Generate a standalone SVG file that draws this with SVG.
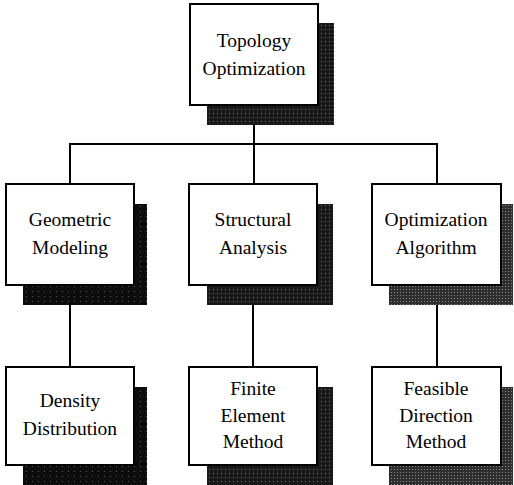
<svg xmlns="http://www.w3.org/2000/svg" width="514" height="485" viewBox="0 0 514 485">
  <style>
    .box { fill: #ffffff; stroke: #000000; stroke-width: 2; }
    .sh-dark { fill: url(#stipDark); }
    .sh-mid { fill: url(#stipMid); }
    .sh-gray { fill: url(#stipGray); }
    .lbl { font-size: 19.5px; fill: #000000; text-anchor: middle; }
    .conn { fill: none; stroke: #000000; stroke-width: 2; }
  </style>
  <defs>
    <pattern id="stipDark" width="6" height="5" patternUnits="userSpaceOnUse">
      <rect width="6" height="5" fill="#0d0d0d"/>
      <rect x="2" y="1" width="1" height="1" fill="#555555"/>
    </pattern>
    <pattern id="stipMid" width="4" height="4" patternUnits="userSpaceOnUse">
      <rect width="4" height="4" fill="#1a1a1a"/>
      <rect x="1" y="1" width="1" height="1" fill="#6a6a6a"/>
    </pattern>
    <pattern id="stipGray" width="3" height="3" patternUnits="userSpaceOnUse">
      <rect width="3" height="3" fill="#2e2e2e"/>
      <rect x="1" y="1" width="1" height="1" fill="#8a8a8a"/>
    </pattern>
  </defs>
  <rect width="514" height="485" fill="#ffffff"/>

  <g id="connectors">
    <line class="conn" x1="254" y1="125" x2="254" y2="184"/>
    <polyline class="conn" points="70,184 70,144 437,144 437,184"/>
    <line class="conn" x1="70" y1="305" x2="70" y2="367"/>
    <line class="conn" x1="253" y1="305" x2="253" y2="367"/>
    <line class="conn" x1="437" y1="305" x2="437" y2="367"/>
  </g>

  <g font-family="Liberation Serif, Times New Roman, serif">
  <g id="topology-optimization">
    <rect class="sh-mid" x="207" y="23" width="127" height="102"/>
    <rect class="box" x="190" y="4" width="128" height="101"/>
    <text class="lbl" x="254" y="47">Topology</text>
    <text class="lbl" x="254" y="75">Optimization</text>
  </g>

  <g id="geometric-modeling">
    <rect class="sh-dark" x="23" y="204" width="124" height="101"/>
    <rect class="box" x="6" y="184" width="128" height="101"/>
    <text class="lbl" x="70" y="226">Geometric</text>
    <text class="lbl" x="70" y="254">Modeling</text>
  </g>

  <g id="structural-analysis">
    <rect class="sh-mid" x="207" y="204" width="126" height="101"/>
    <rect class="box" x="189" y="184" width="128" height="101"/>
    <text class="lbl" x="253" y="226">Structural</text>
    <text class="lbl" x="253" y="254">Analysis</text>
  </g>

  <g id="optimization-algorithm">
    <rect class="sh-gray" x="389" y="204" width="124" height="101"/>
    <rect class="box" x="372" y="184" width="129" height="101"/>
    <text class="lbl" x="436" y="226">Optimization</text>
    <text class="lbl" x="436" y="254">Algorithm</text>
  </g>

  <g id="density-distribution">
    <rect class="sh-dark" x="23" y="387" width="124" height="98"/>
    <rect class="box" x="6" y="367" width="128" height="98"/>
    <text class="lbl" x="70" y="407">Density</text>
    <text class="lbl" x="70" y="435">Distribution</text>
  </g>

  <g id="finite-element-method">
    <rect class="sh-mid" x="207" y="387" width="126" height="98"/>
    <rect class="box" x="189" y="367" width="128" height="98"/>
    <text class="lbl" x="253" y="395">Finite</text>
    <text class="lbl" x="253" y="422">Element</text>
    <text class="lbl" x="253" y="448">Method</text>
  </g>

  <g id="feasible-direction-method">
    <rect class="sh-gray" x="389" y="387" width="124" height="98"/>
    <rect class="box" x="372" y="367" width="129" height="98"/>
    <text class="lbl" x="436" y="395">Feasible</text>
    <text class="lbl" x="436" y="422">Direction</text>
    <text class="lbl" x="436" y="448">Method</text>
  </g>
  </g>
</svg>
